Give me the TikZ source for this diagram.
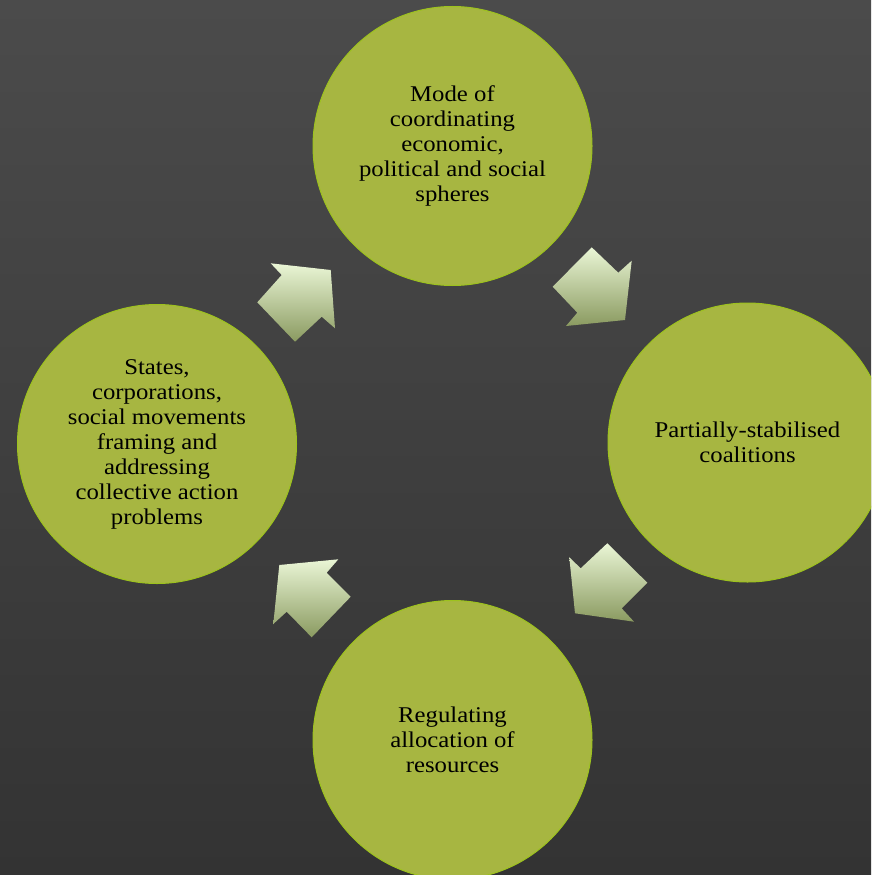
\documentclass[tikz,border=0pt]{standalone}
\usepackage{fontspec}
\setmainfont{Liberation Serif}[FakeStretch=1.1]
\begin{document}
\begin{tikzpicture}[x=1pt,y=-1pt,
  circ/.style={circle,minimum size=279pt,inner sep=0pt,fill=circfill,draw=circedge,line width=1pt,
    align=center,font=\fontsize{22.5}{25}\selectfont,text=black},
  blockarrow/.style={top color=arrowtop,bottom color=arrowbot,draw=none}]
\definecolor{circfill}{HTML}{A7B641}
\definecolor{circedge}{HTML}{9DC21E}
\definecolor{arrowtop}{HTML}{EAF6D6}
\definecolor{arrowbot}{HTML}{8A9A60}
\definecolor{bgtop}{HTML}{4B4B4B}
\definecolor{bgbot}{HTML}{333333}
\useasboundingbox (0,0) rectangle (871,875);
\shade[top color=bgtop,bottom color=bgbot] (0,0) rectangle (871,875);
\begin{scope}
\clip (0,0) rectangle (871,875);
\node[circ] (topc) at (452.5,146) {Mode of\\coordinating\\economic,\\political and social\\spheres};
\node[circ] (rightc) at (747.5,442.5) {Partially-stabilised\\coalitions};
\node[circ] (botc) at (452.5,740) {Regulating\\allocation of\\resources};
\node[circ] (leftc) at (157,444) {States,\\corporations,\\social movements\\framing and\\addressing\\collective action\\problems};
\end{scope}
% arrow top -> right
\path[blockarrow] (591.7,247.3) -- (618.3,272.7) -- (631.7,260.7) -- (625,320) -- (566,326) -- (577.3,312.7) -- (552.7,286.7) -- cycle;
% arrow right -> bottom
\path[blockarrow] (607.3,543.3) -- (647.3,582.7) -- (621.7,608.3) -- (634,621.7) -- (575,613.3) -- (569.3,557.3) -- (580.7,568.3) -- cycle;
% arrow bottom -> left
\path[blockarrow] (350.7,596.7) -- (311.7,637.3) -- (286.7,611.7) -- (273.3,624) -- (279.3,565) -- (338.3,559.3) -- (326.7,572.7) -- cycle;
% arrow left -> top
\path[blockarrow] (257.3,302.3) -- (281.7,275) -- (270.7,263.3) -- (330.7,270) -- (335,328.3) -- (321.7,316.7) -- (295,341.7) -- cycle;
\end{tikzpicture}
\end{document}
